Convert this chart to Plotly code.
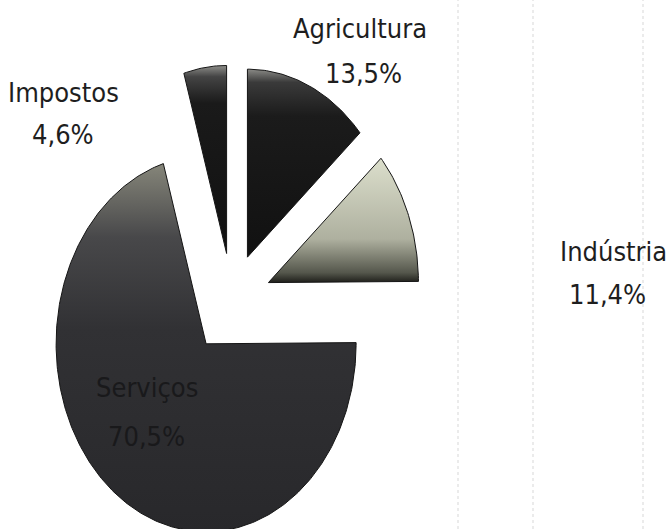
import numpy as np
import plotly.graph_objects as go

# Composição do PIB por setor (%)
setores = ["Agricultura", "Indústria", "Serviços", "Impostos"]
valores = [13.5, 11.4, 70.5, 4.6]
rotulos = ["13,5%", "11,4%", "70,5%", "4,6%"]

# slice styling: explode distance and vertical colour ramp (bottom -> top)
destaque = [0.25, 0.26, 0.29, 0.25]
gradientes = [
    [[0, "#111111"], [0.75, "#1b1b1b"], [0.93, "#3a3a3a"], [1, "#8a8a86"]],
    [[0, "#1e1e1a"], [0.08, "#55574c"], [0.35, "#aeb09f"], [1, "#dcdfcc"]],
    [[0, "#28282b"], [0.55, "#313134"], [0.8, "#48484a"], [1, "#86867a"]],
    [[0, "#111111"], [0.8, "#1a1a1a"], [0.94, "#444444"], [1, "#8e8e8a"]],
]

# pixel scale of a unit radius (the pie is drawn slightly taller than wide)
W, H = 671, 529
CX, CY = 232, 300          # centre of the pie, in pixels
RX, RY = 150, 188          # pixels per unit radius along x and y

x_range = [-CX / RX, (W - CX) / RX]
y_range = [-(H - CY) / RY, CY / RY]

fig = go.Figure()

total = sum(valores)
inicio = 0.0
for nome, v, p, cs in zip(setores, valores, destaque, gradientes):
    a0 = inicio / total * 2 * np.pi
    a1 = (inicio + v) / total * 2 * np.pi
    inicio += v
    meio = (a0 + a1) / 2
    ox, oy = p * np.sin(meio), p * np.cos(meio)
    t = np.linspace(a0, a1, max(8, int(v * 4)))
    xs = np.concatenate([[ox], ox + np.sin(t), [ox]])
    ys = np.concatenate([[oy], oy + np.cos(t), [oy]])
    fig.add_trace(go.Scatter(
        x=xs, y=ys, mode="lines", fill="toself",
        line=dict(color="#151515", width=1),
        fillgradient=dict(type="vertical", colorscale=cs,
                          start=float(ys.min()), stop=float(ys.max())),
        name=nome, hoverinfo="name", showlegend=False,
    ))

fonte = dict(family="DejaVu Sans Condensed, DejaVu Sans, sans-serif",
             size=27, color="#1e1e1e")

# label anchors in pixels: (name centre), (value centre)
pos_rotulo = {
    "Agricultura": ((360, 28), (363, 73)),
    "Indústria": ((613, 251), (607, 294)),
    "Serviços": ((147, 387), (146, 436)),
    "Impostos": ((63, 92), (63, 134)),
}
for nome, r in zip(setores, rotulos):
    (nx, ny), (vx, vy) = pos_rotulo[nome]
    cor = "#19191b" if nome == "Serviços" else "#1e1e1e"
    for texto, px, py in [(nome, nx, ny), (r, vx, vy)]:
        fig.add_annotation(
            x=(px - CX) / RX, y=(CY - py) / RY, xref="x", yref="y",
            text=texto, showarrow=False,
            font=dict(fonte, color=cor), align="center",
        )

# faint dotted rules on the right side of the page
for gx in [458, 533, 643]:
    fig.add_shape(type="line", xref="paper", yref="paper",
                  x0=gx / W, x1=gx / W, y0=0, y1=1,
                  line=dict(color="rgba(140,140,140,0.35)", width=1, dash="dot"),
                  layer="below")

fig.update_xaxes(range=x_range, visible=False, fixedrange=True)
fig.update_yaxes(range=y_range, visible=False, fixedrange=True)
fig.update_layout(
    width=W, height=H, margin=dict(l=0, r=0, t=0, b=0),
    paper_bgcolor="white", plot_bgcolor="white",
    showlegend=False,
)

fig.write_html("out.html")
